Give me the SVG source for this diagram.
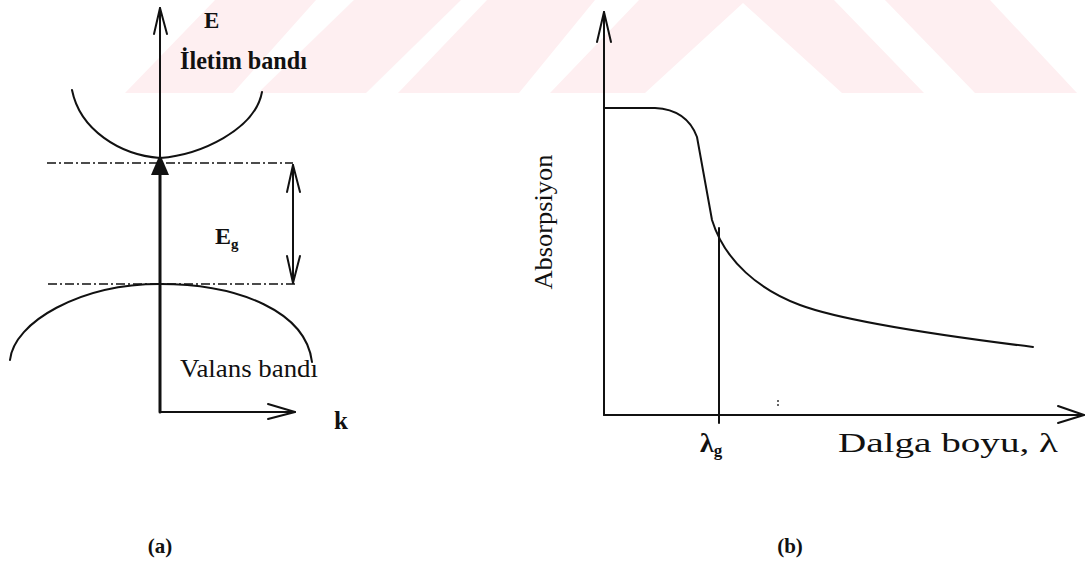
<svg xmlns="http://www.w3.org/2000/svg" width="1089" height="574" viewBox="0 0 1089 574">
<style>
.ln{fill:none;stroke:#111;stroke-width:2;stroke-linecap:round;stroke-linejoin:round}
.thk{fill:none;stroke:#111;stroke-width:3;stroke-linecap:round}
.dd{fill:none;stroke:#111;stroke-width:1.6;stroke-dasharray:9 3 2 3}
.t{font-family:"Liberation Serif","Times New Roman",serif;fill:#111}
.wm{fill:#feeff1;stroke:none}
</style>
<rect width="1089" height="574" fill="#fff"/>
<g id="watermark">
<polygon class="wm" points="125,93 215,0 316,0 233,93"/>
<polygon class="wm" points="258,93 354,0 461,0 366,93"/>
<polygon class="wm" points="398,93 487,0 595,0 519,93"/>
<polygon class="wm" points="550,93 639,0 834,0 924,93 842,93 743,3 645,93"/>
<polygon class="wm" points="975,93 885,0 990,0 1077,93"/>
</g>
<g id="panel-a">
<g id="bands">
<path id="conduction-band" class="ln" d="M72,90 C80,130 120,155 160,158 C200,155 255,130 262,92"/>
<path id="valence-band" class="ln" d="M10,360 C14,322 80,284 160,284 C240,284 306,312 312,362"/>
</g>
<g id="connectors">
<line class="dd" x1="47" y1="163" x2="293" y2="163"/>
<line class="dd" x1="48" y1="284" x2="295" y2="284"/>
<line class="ln" x1="160" y1="8" x2="160" y2="160"/>
<polyline class="ln" points="154,34 160,8 167,34"/>
<line class="thk" x1="160" y1="170" x2="160" y2="412"/>
<polygon points="160,154 169,175 151,175" fill="#111"/>
<line class="ln" x1="160" y1="412" x2="295" y2="412"/>
<polyline class="ln" points="268,404 295,412 268,419"/>
<line class="ln" x1="293" y1="165" x2="293" y2="283"/>
<polyline class="ln" points="287,192 293,165 300,192"/>
<polyline class="ln" points="287,256 293,283 300,256"/>
</g>
<g id="labels-a">
<text class="t" x="204" y="28" font-size="23" font-weight="bold">E</text>
<text class="t" x="180" y="69" font-size="25" font-weight="bold" textLength="127" lengthAdjust="spacingAndGlyphs">İletim bandı</text>
<text class="t" x="215" y="244" font-size="24" font-weight="bold">E<tspan font-size="15" dy="5">g</tspan></text>
<text class="t" x="180" y="377" font-size="26" textLength="138" lengthAdjust="spacingAndGlyphs">Valans bandı</text>
<text class="t" x="334" y="429" font-size="25" font-weight="bold">k</text>
<text class="t" x="160" y="553" font-size="21" font-weight="bold" text-anchor="middle">(a)</text>
</g>
</g>
<g id="panel-b">
<g id="axes-b">
<line class="ln" x1="604" y1="12" x2="604" y2="415"/>
<polyline class="ln" points="597,42 604,12 611,42"/>
<line class="ln" x1="604" y1="415" x2="1084" y2="415"/>
<polyline class="ln" points="1058,406 1084,415 1058,423"/>
<line class="ln" x1="719" y1="228" x2="719" y2="423"/>
</g>
<path id="absorption-curve" class="ln" d="M604,108 L655,108 C675,109 690,118 697,137 L712,220 C725,262 760,290 800,305 S920,333 1033,347"/>
<g id="labels-b">
<text class="t" transform="translate(552,222) rotate(-90)" font-size="26" text-anchor="middle" textLength="135" lengthAdjust="spacingAndGlyphs">Absorpsiyon</text>
<text class="t" x="700" y="452" font-size="28" font-weight="bold">λ<tspan font-size="17" dy="4">g</tspan></text>
<text class="t" x="838" y="452" font-size="28" textLength="220" lengthAdjust="spacingAndGlyphs">Dalga boyu, λ</text>
<text class="t" x="790" y="553" font-size="21" font-weight="bold" text-anchor="middle">(b)</text>
</g>
<g id="specks">
<circle cx="778" cy="401" r="1" fill="#333"/>
<circle cx="778" cy="405" r="1" fill="#333"/>
</g>
</g>
</svg>
